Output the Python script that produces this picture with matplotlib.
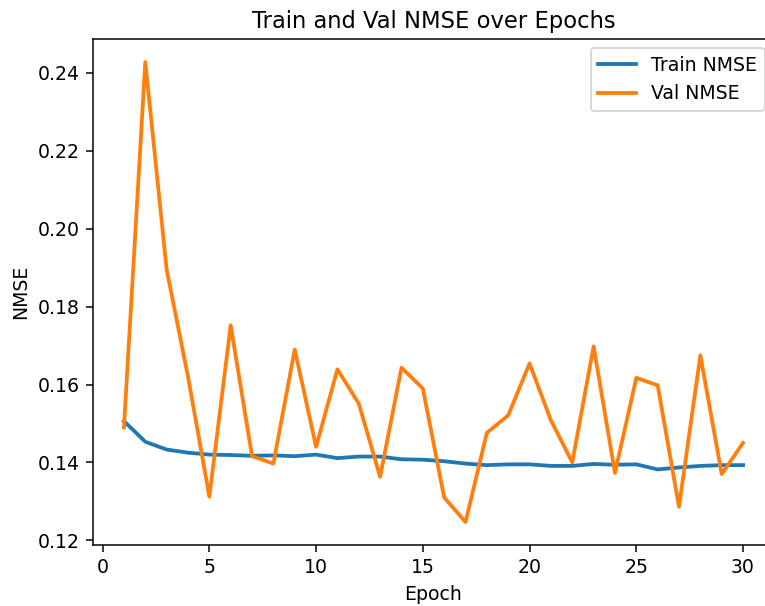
import matplotlib
matplotlib.use("Agg")
import matplotlib.pyplot as plt

epochs = list(range(1, 31))

train_nmse = [0.1506, 0.1453, 0.1433, 0.1425, 0.1420, 0.1419, 0.1417, 0.1418, 0.1416, 0.1420,
              0.1411, 0.1415, 0.1415, 0.1408, 0.1407, 0.1403, 0.1397, 0.1393, 0.1395, 0.1395,
              0.1391, 0.1391, 0.1396, 0.1394, 0.1395, 0.1382, 0.1387, 0.1391, 0.1393, 0.1393]

val_nmse = [0.1490, 0.2428, 0.1895, 0.1620, 0.1312, 0.1752, 0.1416, 0.1397, 0.1690, 0.1440,
            0.1639, 0.1551, 0.1363, 0.1643, 0.1590, 0.1310, 0.1247, 0.1476, 0.1521, 0.1654,
            0.1508, 0.1400, 0.1698, 0.1373, 0.1617, 0.1598, 0.1286, 0.1675, 0.1370, 0.1450]

W, H = 765, 606
dpi = 136
fig = plt.figure(figsize=(W / dpi, H / dpi), dpi=dpi)
# axes run a little past the right edge of the canvas
ax = fig.add_axes([93 / W, 1 - 545 / H, (774 - 93) / W, (545 - 39) / H])

ax.plot(epochs, train_nmse, lw=2.0, label="Train NMSE")
ax.plot(epochs, val_nmse, lw=2.0, label="Val NMSE")

ax.set_xlabel("Epoch")
ax.set_ylabel("NMSE")
ax.set_title("Train and Val NMSE over Epochs")
ax.legend()

fig.savefig("out.png", dpi=dpi)
